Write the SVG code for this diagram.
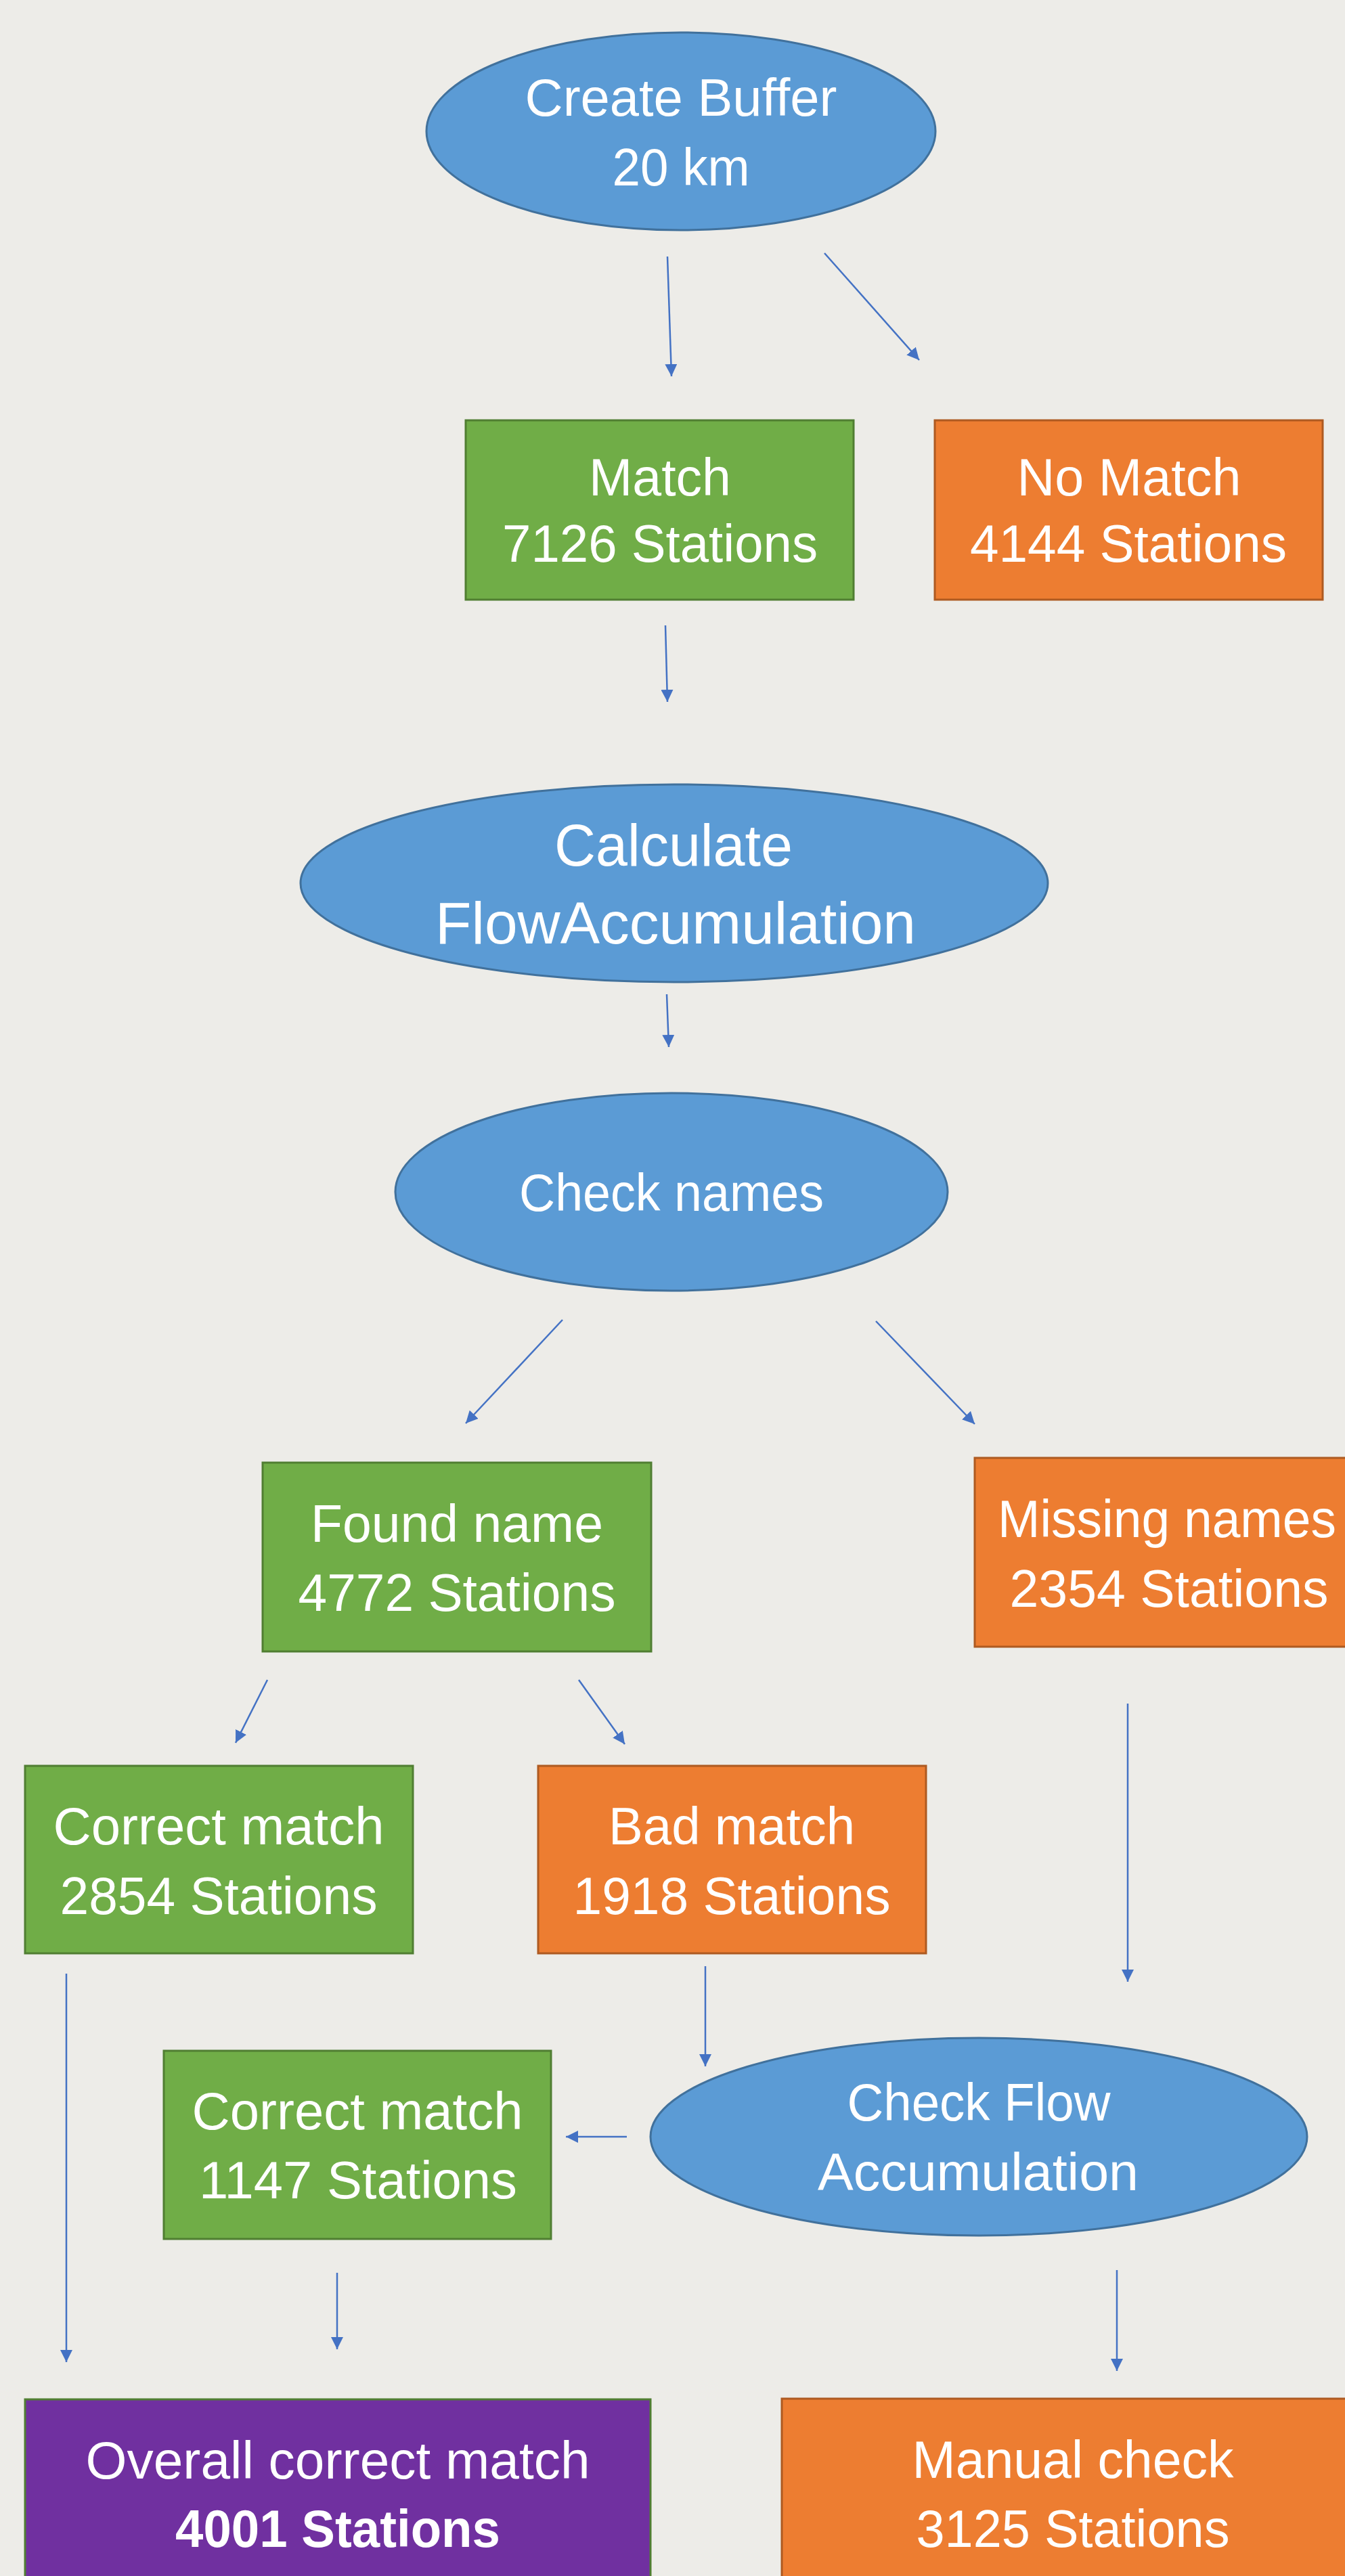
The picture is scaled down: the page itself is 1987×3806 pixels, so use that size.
<svg xmlns="http://www.w3.org/2000/svg" width="1987" height="3806" viewBox="0 0 1987 3806">
<defs>
<style>
.bg{fill:#EDECE8}
.ell{fill:#5B9BD5;stroke:#41719C;stroke-width:3}
.grn{fill:#70AD47;stroke:#507E32;stroke-width:3}
.org{fill:#ED7D31;stroke:#AE5A21;stroke-width:3}
.pur{fill:#7030A0;stroke:#507E32;stroke-width:3}
.t{font-family:"Liberation Sans",Arial,sans-serif;font-size:78px;fill:#FFFFFF;text-anchor:middle}
.tb{font-weight:bold}
.big{font-size:87px}
.c{stroke:#4472C4;stroke-width:2.5;fill:none;marker-end:url(#ah)}
</style>
<marker id="ah" markerUnits="userSpaceOnUse" markerWidth="18" markerHeight="18" viewBox="0 0 16 16" refX="16" refY="8" orient="auto">
<path d="M0,0 L16,8 L0,16 Z" fill="#4472C4"/>
</marker>
</defs>
<rect class="bg" x="0" y="0" width="1987" height="3806"/>

<g id="connectors">
<line class="c" x1="986" y1="379" x2="992" y2="556"/>
<line class="c" x1="1218" y1="374" x2="1358" y2="532"/>
<line class="c" x1="983" y1="924" x2="986" y2="1037"/>
<line class="c" x1="985" y1="1469" x2="988" y2="1547"/>
<line class="c" x1="831" y1="1950" x2="688" y2="2103"/>
<line class="c" x1="1294" y1="1952" x2="1440" y2="2104"/>
<line class="c" x1="395" y1="2482" x2="348" y2="2575"/>
<line class="c" x1="855" y1="2482" x2="923" y2="2577"/>
<line class="c" x1="1666" y1="2517" x2="1666" y2="2928"/>
<line class="c" x1="1042" y1="2905" x2="1042" y2="3053"/>
<line class="c" x1="926" y1="3157" x2="836" y2="3157"/>
<line class="c" x1="98" y1="2916" x2="98" y2="3490"/>
<line class="c" x1="498" y1="3358" x2="498" y2="3471"/>
<line class="c" x1="1650" y1="3354" x2="1650" y2="3503"/>
</g>

<g id="create-buffer">
<ellipse class="ell" cx="1006" cy="194" rx="376" ry="146"/>
<text class="t" x="1006" y="171" textLength="461" lengthAdjust="spacingAndGlyphs">Create Buffer</text>
<text class="t" x="1006" y="274" textLength="203" lengthAdjust="spacingAndGlyphs">20 km</text>
</g>

<g id="match">
<rect class="grn" x="688" y="621" width="573" height="265"/>
<text class="t" x="975" y="732" textLength="210" lengthAdjust="spacingAndGlyphs">Match</text>
<text class="t" x="975" y="830" textLength="466" lengthAdjust="spacingAndGlyphs">7126 Stations</text>
</g>

<g id="no-match">
<rect class="org" x="1381" y="621" width="573" height="265"/>
<text class="t" x="1668" y="732" textLength="331" lengthAdjust="spacingAndGlyphs">No Match</text>
<text class="t" x="1667" y="830" textLength="468" lengthAdjust="spacingAndGlyphs">4144 Stations</text>
</g>

<g id="calculate-flow">
<ellipse class="ell" cx="996" cy="1305" rx="552" ry="146"/>
<text class="t big" x="995" y="1279" textLength="352" lengthAdjust="spacingAndGlyphs">Calculate</text>
<text class="t big" x="998" y="1394" textLength="710" lengthAdjust="spacingAndGlyphs">FlowAccumulation</text>
</g>

<g id="check-names">
<ellipse class="ell" cx="992" cy="1761" rx="408" ry="146"/>
<text class="t" x="992" y="1789" textLength="450" lengthAdjust="spacingAndGlyphs">Check names</text>
</g>

<g id="found-name">
<rect class="grn" x="388" y="2161" width="574" height="279"/>
<text class="t" x="675" y="2278" textLength="432" lengthAdjust="spacingAndGlyphs">Found name</text>
<text class="t" x="675" y="2380" textLength="469" lengthAdjust="spacingAndGlyphs">4772 Stations</text>
</g>

<g id="missing-names">
<rect class="org" x="1440" y="2154" width="574" height="279"/>
<text class="t" x="1724" y="2271" textLength="500" lengthAdjust="spacingAndGlyphs">Missing names</text>
<text class="t" x="1727" y="2374" textLength="471" lengthAdjust="spacingAndGlyphs">2354 Stations</text>
</g>

<g id="correct-match-2854">
<rect class="grn" x="37" y="2609" width="573" height="277"/>
<text class="t" x="323" y="2725" textLength="489" lengthAdjust="spacingAndGlyphs">Correct match</text>
<text class="t" x="323" y="2828" textLength="469" lengthAdjust="spacingAndGlyphs">2854 Stations</text>
</g>

<g id="bad-match">
<rect class="org" x="795" y="2609" width="573" height="277"/>
<text class="t" x="1081" y="2725" textLength="364" lengthAdjust="spacingAndGlyphs">Bad match</text>
<text class="t" x="1081" y="2828" textLength="469" lengthAdjust="spacingAndGlyphs">1918 Stations</text>
</g>

<g id="correct-match-1147">
<rect class="grn" x="242" y="3030" width="572" height="278"/>
<text class="t" x="528" y="3146" textLength="489" lengthAdjust="spacingAndGlyphs">Correct match</text>
<text class="t" x="529" y="3248" textLength="470" lengthAdjust="spacingAndGlyphs">1147 Stations</text>
</g>

<g id="check-flow">
<ellipse class="ell" cx="1446" cy="3157" rx="485" ry="146"/>
<text class="t" x="1446" y="3133" textLength="389" lengthAdjust="spacingAndGlyphs">Check Flow</text>
<text class="t" x="1445" y="3236" textLength="474" lengthAdjust="spacingAndGlyphs">Accumulation</text>
</g>

<g id="overall-correct">
<rect class="pur" x="37" y="3545" width="924" height="300"/>
<text class="t" x="499" y="3662" textLength="745" lengthAdjust="spacingAndGlyphs">Overall correct match</text>
<text class="t tb" x="499" y="3763" textLength="480" lengthAdjust="spacingAndGlyphs">4001 Stations</text>
</g>

<g id="manual-check">
<rect class="org" x="1155" y="3544" width="861" height="300"/>
<text class="t" x="1585" y="3661" textLength="475" lengthAdjust="spacingAndGlyphs">Manual check</text>
<text class="t" x="1585" y="3763" textLength="463" lengthAdjust="spacingAndGlyphs">3125 Stations</text>
</g>
</svg>
